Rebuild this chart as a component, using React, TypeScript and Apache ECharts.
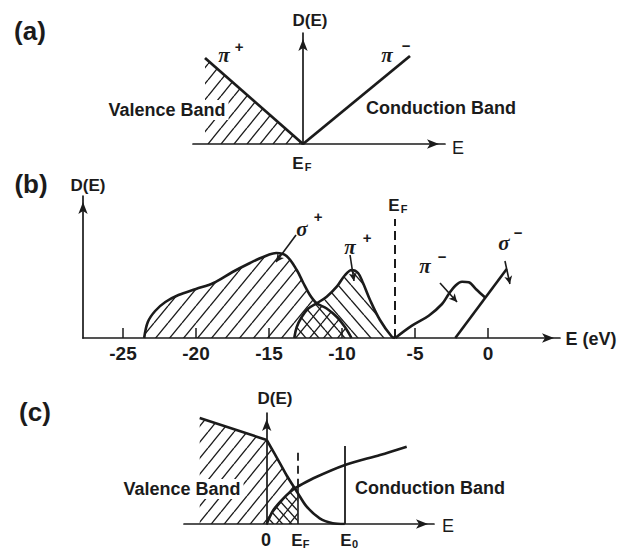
import React, { useEffect, useRef } from "react";
import * as echarts from "echarts";

const INK = "#1b1b1b";
const SANS = "'Liberation Sans', Arial, sans-serif";
const SERIF = "'Liberation Serif', 'DejaVu Serif', serif";

// ---------- Panel (a): ideal 2D graphite, linear bands (E, D in arbitrary units) ----------
const aPiPlus: number[][] = [[-9.8, 8.6], [0, 0]];
const aPiMinus: number[][] = [[0, 0], [10.7, 8.8]];

// ---------- Panel (b): E in eV, D arbitrary ----------
const bTicks = [-25, -20, -15, -10, -5, 0];
const bEF = -6.37;
const bSigmaPlus: number[][] = [
  [-23.55, 0], [-23.3, 1.6], [-22.8, 2.7], [-22.1, 3.6], [-21.2, 4.3], [-20.0, 4.9],
  [-18.8, 5.5], [-17.5, 6.6], [-16.3, 7.5], [-15.4, 8.1], [-14.5, 8.5], [-13.8, 8.2],
  [-13.1, 6.8], [-12.65, 5.5], [-12.2, 4.3], [-11.73, 3.47], [-11.05, 2.95], [-10.35, 2.1],
  [-9.8, 1.1], [-9.35, 0],
];
const bPiPlus: number[][] = [
  [-13.27, 0], [-13.1, 1.1], [-12.76, 2.1], [-12.31, 2.95], [-11.73, 3.47], [-11.05, 4.13],
  [-10.36, 5.13], [-9.79, 6.3], [-9.34, 6.8], [-8.9, 6.5], [-8.56, 5.5], [-8.08, 3.8],
  [-7.4, 1.8], [-6.6, 0.15], [-6.37, 0],
];
const bPiMinus: number[][] = [
  [-6.35, 0], [-5.21, 1.23], [-4.06, 2.23], [-3.15, 3.4], [-2.69, 4.4], [-2.24, 5.23],
  [-1.78, 5.63], [-1.32, 5.57], [-0.8, 4.85], [-0.2, 4.05],
];
const bSigmaMinus: number[][] = [[-2.24, 0], [1.28, 6.9]];
// pointer arrows: [from, to]
const bPointers: number[][][] = [
  [[-13.15, 10.3], [-14.52, 7.6]],
  [[-9.45, 8.3], [-9.18, 5.7]],
  [[-3.29, 5.5], [-2.12, 3.6]],
  [[1.16, 7.7], [1.5, 5.4]],
];
const bEFTop = 11.9;

// ---------- Panel (c) ----------
const cEF = 3.1;
const cE0 = 7.8;
const cEFTop = 7.5;
const cE0Top = 7.8;
const cValence: number[][] = [
  [-6.7, 10.6], [0, 8.4], [1.33, 6.07], [2.0, 4.85], [2.8, 3.57], [3.1, 3.1], [4.0, 1.73],
  [5.3, 0.57], [6.6, 0.08], [7.8, 0],
];
const cConduction: number[][] = [
  [0, 0], [0.67, 1.4], [1.67, 2.57], [2.8, 3.57], [3.1, 3.73], [4.67, 4.57],
  [7.83, 5.9], [11.33, 6.9], [14.0, 7.73],
];

function hatch(w: number, h: number, dir: number, lw = 1.35) {
  const c = document.createElement("canvas");
  c.width = w;
  c.height = h;
  const g = c.getContext("2d")!;
  g.strokeStyle = INK;
  g.lineWidth = lw;
  for (let k = -1; k <= 1; k++) {
    g.beginPath();
    if (dir > 0) {
      g.moveTo(k * w, h);
      g.lineTo(k * w + w, 0);
    } else {
      g.moveTo(k * w, 0);
      g.lineTo(k * w + w, h);
    }
    g.stroke();
  }
  return { image: c, repeat: "repeat", imageWidth: w, imageHeight: h } as any;
}

function txt(x: number, y: number, text: string, size: number, o: any = {}) {
  return {
    type: "text",
    x,
    y,
    silent: true,
    z: 10,
    style: {
      text,
      fontSize: size,
      fontFamily: SANS,
      fontWeight: "bold",
      fill: INK,
      align: "center",
      verticalAlign: "middle",
      textAlign: "center",
      textVerticalAlign: "middle",
      ...o,
    },
  };
}
const greek = (x: number, y: number, t: string, size = 21) =>
  txt(x, y, t, size, { fontFamily: SERIF, fontStyle: "italic", fontWeight: "bold" });
const band = (x: number, y: number, t: string) =>
  txt(x, y, t, 18, { backgroundColor: "#ffffff", padding: [1, 3, 1, 3] });

export default function App() {
  const ref = useRef<HTMLDivElement>(null);
  useEffect(() => {
    if (!ref.current) return;
    const chart = echarts.init(ref.current, null, { renderer: "svg" });

    const axisStyle = { color: INK, width: 1.7 };
    const arrowLine = (onZero: boolean) => ({
      show: true,
      onZero,
      symbol: ["none", "arrow"],
      symbolSize: [7, 12],
      symbolOffset: [0, -6],
      lineStyle: axisStyle,
    });
    const hidden = { axisTick: { show: false }, axisLabel: { show: false }, splitLine: { show: false } };

    const line = (xi: number, data: number[][], smooth: number | boolean, width = 2.6, extra: any = {}) => ({
      type: "line",
      xAxisIndex: xi,
      yAxisIndex: xi,
      data,
      smooth,
      showSymbol: false,
      symbol: "none",
      silent: true,
      z: 5,
      lineStyle: { color: INK, width },
      ...extra,
    });
    const area = (xi: number, data: number[][], smooth: number | boolean, pattern: any) => ({
      type: "line",
      xAxisIndex: xi,
      yAxisIndex: xi,
      data,
      smooth,
      showSymbol: false,
      symbol: "none",
      silent: true,
      z: 2,
      lineStyle: { width: 0, opacity: 0 },
      areaStyle: { color: pattern, opacity: 1 },
    });

    const markLineCommon = {
      silent: true,
      symbol: ["none", "none"],
      symbolSize: 7,
      label: { show: false },
      emphasis: { disabled: true },
      lineStyle: { color: INK, width: 1.6, type: "solid" },
    };

    const hA = hatch(13, 16, 1);
    const hB1 = hatch(14, 17, 1);
    const hB2 = hatch(13, 15, -1);
    const hC1 = hatch(13, 16, 1);
    const hC2 = hatch(9, 10, -1);

    const cValLeft = cValence.slice(0, 2);
    const cValRight = cValence.slice(1);
    const cValRightHatched = cValRight.filter((p) => p[0] <= cEF);
    const cCondHatched = cConduction.filter((p) => p[0] <= cEF);
    const cEFCond = cConduction.find((p) => p[0] === cEF)![1];

    const option: any = {
      animation: false,
      backgroundColor: "#ffffff",
      grid: [
        { left: 193, top: 33, width: 252, height: 111 },
        { left: 83, top: 196, width: 477, height: 142 },
        { left: 184, top: 413, width: 250, height: 111 },
      ],
      xAxis: [
        { gridIndex: 0, type: "value", min: -11, max: 14.2, axisLine: arrowLine(true), ...hidden },
        {
          gridIndex: 1,
          type: "value",
          min: -27.74,
          max: 4.93,
          axisLine: arrowLine(true),
          axisTick: { show: true, inside: true, length: 10, customValues: bTicks, lineStyle: { color: INK, width: 1.5 } },
          axisLabel: {
            show: true,
            customValues: bTicks,
            margin: 6,
            fontSize: 19,
            fontWeight: "bold",
            fontFamily: SANS,
            color: INK,
          },
          splitLine: { show: false },
        },
        { gridIndex: 2, type: "value", min: -8.27, max: 16.73, axisLine: arrowLine(true), ...hidden },
      ],
      yAxis: [
        { gridIndex: 0, type: "value", min: 0, max: 11.1, axisLine: arrowLine(true), ...hidden },
        { gridIndex: 1, type: "value", min: 0, max: 14.2, axisLine: arrowLine(false), ...hidden },
        { gridIndex: 2, type: "value", min: 0, max: 11.1, axisLine: arrowLine(true), ...hidden },
      ],
      series: [
        // (a)
        area(0, aPiPlus, false, hA),
        line(0, aPiPlus, false, 2.8),
        line(0, aPiMinus, false, 2.8),
        // (b)
        area(1, bSigmaPlus, 0.35, hB1),
        area(1, bPiPlus, 0.35, hB2),
        line(1, bSigmaPlus, 0.35),
        line(1, bPiPlus, 0.35),
        line(1, bPiMinus, 0.35),
        line(1, bSigmaMinus, false, 2.6, {
          markLine: {
            ...markLineCommon,
            data: [
              [
                { coord: [bEF, 0], lineStyle: { type: [9, 5], width: 2 } },
                { coord: [bEF, bEFTop] },
              ],
              ...bPointers.map((p) => [
                { coord: p[0] },
                { coord: p[1], symbol: "arrow", symbolSize: [6, 8] },
              ]),
            ],
          },
        }),
        // (c)
        area(2, cValLeft, false, hC1),
        area(2, cValRightHatched, 0.3, hC1),
        area(2, cCondHatched, 0.3, hC2),
        line(2, cValLeft, false, 2.6),
        line(2, cValRight, 0.3, 2.6),
        line(2, cConduction, 0.3, 2.6, {
          markLine: {
            ...markLineCommon,
            data: [
              [{ coord: [cEF, 0] }, { coord: [cEF, cEFCond] }],
              [
                { coord: [cEF, cEFCond], lineStyle: { type: [8, 5], width: 1.8 } },
                { coord: [cEF, cEFTop] },
              ],
              [{ coord: [cE0, 0], lineStyle: { width: 1.8 } }, { coord: [cE0, cE0Top] }],
            ],
          },
        }),
      ],
      graphic: [
        // (a)
        txt(30, 31, "(a)", 26),
        txt(310, 20, "D(E)", 17),
        greek(224, 55, "π"),
        txt(239, 46, "+", 15),
        greek(387, 55, "π"),
        txt(406, 45, "−", 15),
        band(167, 110, "Valence Band"),
        txt(441, 108, "Conduction Band", 18),
        txt(298, 163, "E", 17),
        txt(308, 167, "F", 11),
        txt(458, 148, "E", 18, { fontWeight: "normal" }),
        // (b)
        txt(31, 184, "(b)", 26),
        txt(88, 185, "D(E)", 17),
        greek(302, 229, "σ"),
        txt(318, 216, "+", 15),
        greek(350, 247, "π"),
        txt(367, 237, "+", 15),
        greek(425, 266, "π"),
        txt(442, 256, "−", 15),
        greek(504, 243, "σ"),
        txt(518, 232, "−", 15),
        txt(394, 205, "E", 17),
        txt(404, 209, "F", 11),
        txt(591, 339, "E (eV)", 18),
        // (c)
        txt(35, 412, "(c)", 26),
        txt(275, 398, "D(E)", 17),
        band(182, 489, "Valence Band"),
        txt(430, 488, "Conduction Band", 18),
        txt(266, 540, "0", 18),
        txt(297, 540, "E", 17),
        txt(306, 544, "F", 11),
        txt(346, 540, "E", 17),
        txt(355, 544, "0", 11),
        txt(448, 526, "E", 18, { fontWeight: "normal" }),
      ],
    };
    chart.setOption(option);
    return () => chart.dispose();
  }, []);
  return (
    <div
      ref={ref}
      style={{ position: "absolute", left: 0, top: 0, width: 624, height: 552, background: "#fff" }}
    />
  );
}
